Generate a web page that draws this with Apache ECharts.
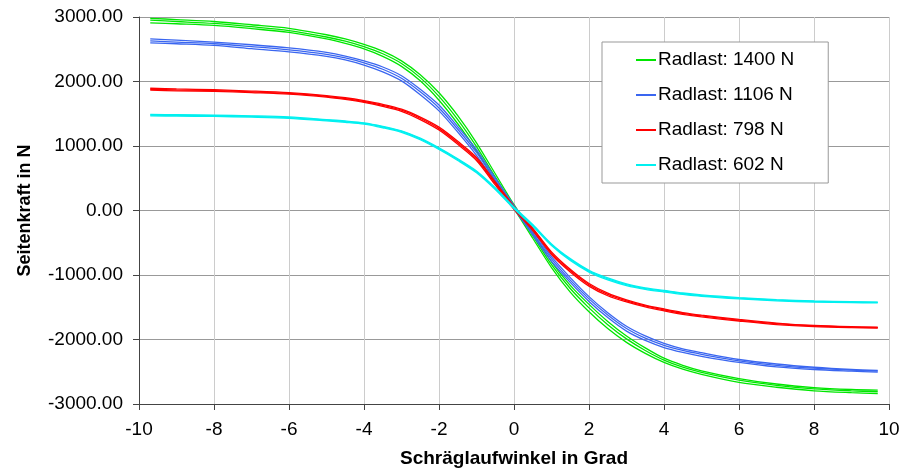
<!DOCTYPE html>
<html>
<head>
<meta charset="utf-8">
<script src="https://cdn.jsdelivr.net/npm/echarts@6/dist/echarts.min.js"></script>
<style>
html,body{margin:0;padding:0;background:#fff;}
#chart{width:903px;height:469px;}
</style>
</head>
<body>
<div id="chart"></div>
<script>
// Schräglaufwinkel in Grad
const angles = [-9.7,-9,-8,-7,-6,-5,-4.5,-4,-3.5,-3,-2.5,-2,-1.5,-1,-0.5,0,0.5,1,1.5,2,2.5,3,3.5,4,4.5,5,6,7,8,9,9.7];
const yTicks = [-3000,-2000,-1000,0,1000,2000,3000];
const xTicks = [-10,-8,-6,-4,-2,0,2,4,6,8,10];
const loadNames = ['Radlast: 1400 N','Radlast: 1106 N','Radlast: 798 N','Radlast: 602 N'];

// Radlast 1400 N (three measurement runs)
const green1 = [2980,2960,2930,2880,2825,2725,2660,2575,2470,2320,2105,1825,1470,1050,570,90,-345,-795,-1160,-1455,-1720,-1945,-2130,-2290,-2400,-2485,-2605,-2690,-2745,-2775,-2785];
const green2 = [2950,2930,2900,2850,2790,2690,2625,2540,2430,2280,2060,1770,1410,990,520,60,-390,-840,-1210,-1510,-1770,-1990,-2170,-2320,-2430,-2510,-2630,-2710,-2765,-2795,-2810];
const green3 = [2910,2895,2870,2820,2760,2660,2590,2505,2390,2235,2010,1710,1345,925,460,30,-430,-885,-1265,-1570,-1830,-2045,-2215,-2355,-2460,-2540,-2665,-2740,-2795,-2825,-2840];
// Radlast 1106 N
const blue1 = [2660,2640,2610,2570,2520,2450,2395,2320,2225,2090,1880,1635,1300,945,505,80,-315,-715,-1040,-1335,-1585,-1795,-1945,-2060,-2145,-2205,-2310,-2380,-2430,-2465,-2480];
const blue2 = [2630,2610,2585,2540,2490,2420,2365,2290,2190,2050,1840,1590,1260,900,470,50,-350,-750,-1080,-1370,-1620,-1830,-1980,-2090,-2170,-2230,-2330,-2400,-2445,-2475,-2490];
const blue3 = [2600,2585,2560,2510,2460,2390,2335,2255,2150,2010,1795,1545,1215,855,435,25,-380,-790,-1115,-1410,-1660,-1870,-2015,-2125,-2200,-2260,-2355,-2425,-2465,-2490,-2505];
// Radlast 798 N
const red1 = [1895,1885,1872,1852,1826,1782,1748,1702,1645,1570,1448,1292,1072,822,442,62,-272,-642,-912,-1132,-1282,-1385,-1466,-1527,-1582,-1622,-1688,-1745,-1783,-1802,-1808];
const red2 = [1880,1870,1860,1840,1815,1770,1735,1690,1630,1555,1430,1270,1050,800,420,40,-290,-660,-930,-1150,-1300,-1400,-1480,-1540,-1595,-1635,-1700,-1755,-1790,-1808,-1815];
const red3 = [1865,1856,1848,1828,1804,1758,1722,1676,1614,1538,1410,1248,1026,776,396,18,-310,-682,-952,-1172,-1322,-1418,-1496,-1556,-1610,-1650,-1713,-1768,-1800,-1816,-1822];
// Radlast 602 N
const cyan1 = [1490,1486,1480,1468,1450,1410,1388,1360,1306,1236,1122,972,802,614,354,54,-218,-518,-746,-926,-1046,-1138,-1198,-1238,-1279,-1309,-1350,-1381,-1402,-1413,-1419];
const cyan2 = [1480,1475,1470,1458,1440,1400,1378,1350,1295,1225,1110,960,790,600,340,40,-230,-530,-760,-940,-1060,-1150,-1210,-1250,-1290,-1320,-1360,-1390,-1410,-1420,-1425];
const cyan3 = [1468,1463,1459,1447,1429,1389,1367,1339,1283,1212,1097,946,776,585,325,26,-243,-544,-776,-955,-1076,-1164,-1223,-1264,-1302,-1332,-1371,-1400,-1419,-1428,-1432];

const groups = [
  {name: loadNames[0], color: '#00e600', runs: [green1, green2, green3]},
  {name: loadNames[1], color: '#3a66f0', runs: [blue1, blue2, blue3]},
  {name: loadNames[2], color: '#ff0000', runs: [red1, red2, red3]},
  {name: loadNames[3], color: '#00f0f0', runs: [cyan1, cyan2, cyan3]}
];

const series = [];
groups.forEach(g => {
  g.runs.forEach(run => {
    series.push({
      name: g.name,
      type: 'line',
      smooth: 0.3,
      symbol: 'none',
      showSymbol: false,
      color: g.color,
      lineStyle: {color: g.color, width: 1.3},
      data: angles.map((a, i) => [a, run[i]])
    });
  });
});

const font = '"Liberation Sans", Arial, sans-serif';
const chart = echarts.init(document.getElementById('chart'), null, {renderer: 'canvas'});
chart.setOption({
  animation: false,
  backgroundColor: '#ffffff',
  textStyle: {fontFamily: font},
  grid: {left: 139, right: 14, top: 17, bottom: 65, containLabel: false, outerBoundsMode: 'none'},
  legend: {
    data: loadNames,
    orient: 'vertical',
    left: 602,
    top: 42,
    padding: [8, 34, 8, 34],
    icon: 'rect',
    itemWidth: 20,
    itemHeight: 2,
    itemGap: 15,
    backgroundColor: '#ffffff',
    borderColor: '#999999',
    borderWidth: 1,
    textStyle: {fontFamily: font, fontSize: 19, color: '#000', lineHeight: 20, padding: [0,0,0,-3]}
  },
  xAxis: {
    type: 'value',
    min: -10, max: 10, interval: 2,
    name: 'Schräglaufwinkel in Grad',
    nameLocation: 'middle',
    nameGap: 45,
    nameTextStyle: {fontFamily: font, fontSize: 19, fontWeight: 'bold', color: '#000'},
    axisLine: {onZero: false, lineStyle: {color: '#444', width: 1}},
    axisTick: {show: true, inside: false, length: 6, lineStyle: {color: '#444'}},
    axisLabel: {fontFamily: font, fontSize: 19, color: '#000', margin: 16,
      formatter: v => xTicks.includes(v) ? String(v) : ''},
    splitLine: {show: true, lineStyle: {color: '#cccccc', width: 1}}
  },
  yAxis: {
    type: 'value',
    min: -3000, max: 3000, interval: 1000,
    name: 'Seitenkraft in N',
    nameLocation: 'middle',
    nameGap: 105,
    nameTextStyle: {fontFamily: font, fontSize: 18, fontWeight: 'bold', color: '#000'},
    axisLine: {show: true, onZero: false, lineStyle: {color: '#444', width: 1}},
    axisTick: {show: true, inside: false, length: 6, lineStyle: {color: '#444'}},
    axisLabel: {fontFamily: font, fontSize: 19, color: '#000', margin: 16,
      formatter: v => yTicks.includes(v) ? v.toFixed(2) : ''},
    splitLine: {show: true, lineStyle: {color: '#999999', width: 1}}
  },
  series: series
});
</script>
</body>
</html>
